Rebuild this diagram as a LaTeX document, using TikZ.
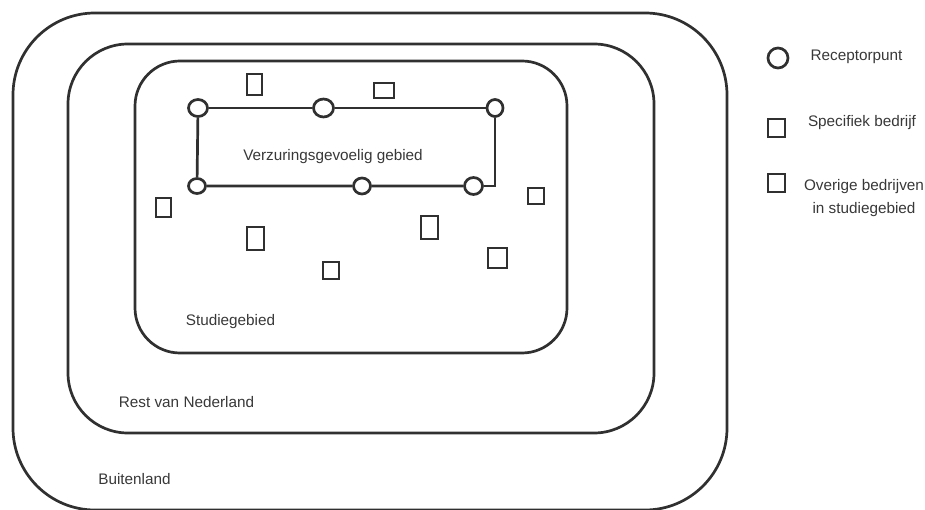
\documentclass[tikz,border=0pt]{standalone}
\usepackage{fontspec}
\setmainfont{Liberation Sans}
\usetikzlibrary{shapes.geometric}
\definecolor{ink}{HTML}{303030}
\definecolor{txt}{HTML}{383838}
\tikzset{
  zone/.style={draw=ink, line width=2.7pt},
  rcpt/.style={ellipse, draw=ink, line width=2.7pt, fill=white, inner sep=0pt},
  firm/.style={rectangle, draw=ink, line width=2.5pt, inner sep=0pt},
  link/.style={draw=ink, line width=2.7pt},
  lbl/.style={text=txt, inner sep=0pt, font=\fontsize{15.3}{23}\selectfont}
}
\begin{document}
\begin{tikzpicture}[x=1pt, y=-1pt]
\useasboundingbox (0,0) rectangle (925,510);
% zones
\draw[zone, rounded corners=82pt] (13,13) rectangle (727,510);
\draw[zone, rounded corners=60pt] (68,44) rectangle (654,433);
\draw[zone, rounded corners=45pt] (135,61) rectangle (567,353);
% receptor points
\node[rcpt, minimum width=19pt, minimum height=17pt] (A) at (198,108) {};
\node[rcpt, minimum width=20pt, minimum height=18pt] (B) at (323.5,108) {};
\node[rcpt, minimum width=16pt, minimum height=17pt] (C) at (495,108) {};
\node[rcpt, minimum width=17pt, minimum height=15pt] (D) at (197,186) {};
\node[rcpt, minimum width=17pt, minimum height=16pt] (E) at (362,186) {};
\node[rcpt, minimum width=18pt, minimum height=17pt] (F) at (473.5,186) {};
\coordinate (cr) at (495,186);
\draw[link] (A) -- (B) -- (C);
\draw[link] (C) -- (cr) -- (F);
\draw[link] (F) -- (E) -- (D) -- (A);
% firms
\node[firm, minimum width=15pt, minimum height=21pt] (s1) at (254.5,84.5) {};
\node[firm, minimum width=20pt, minimum height=15pt] (s2) at (384,90.5) {};
\node[firm, minimum width=16pt, minimum height=16pt] (s3) at (536,196) {};
\node[firm, minimum width=15pt, minimum height=19pt] (s4) at (163.5,207.5) {};
\node[firm, minimum width=17pt, minimum height=23pt] (s5) at (255.5,238.5) {};
\node[firm, minimum width=16pt, minimum height=17pt] (s6) at (331,270.5) {};
\node[firm, minimum width=17pt, minimum height=23pt] (s7) at (429.5,227.5) {};
\node[firm, minimum width=19pt, minimum height=20pt] (s8) at (497.5,258) {};
% labels
\node[lbl] (t1) at (333,157) {Verzuringsgevoelig gebied};
\node[lbl] (t2) at (230.5,322) {Studiegebied};
\node[lbl] (t3) at (186.5,402) {Rest van Nederland};
\node[lbl] (t4) at (134.5,479) {Buitenland};
% legend
\node[rcpt, fill=none, minimum width=20pt, minimum height=20pt] (lc) at (778,58) {};
\node[firm, minimum width=17pt, minimum height=18pt] (ls1) at (776.5,128) {};
\node[firm, minimum width=17pt, minimum height=18pt] (ls2) at (776.5,183) {};
\node[lbl] (l1) at (856.5,57) {Receptorpunt};
\node[lbl] (l2) at (862,123) {Specifiek bedrijf};
\node[lbl, align=center] (l3) at (864,198.5) {Overige bedrijven\\in studiegebied};
\end{tikzpicture}
\end{document}
